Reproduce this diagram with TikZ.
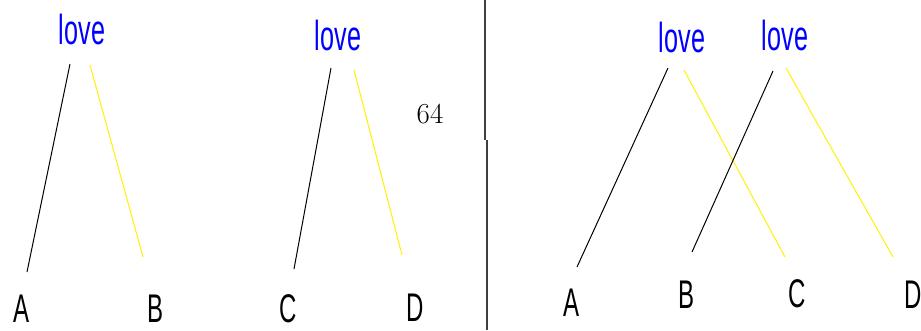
\documentclass[tikz,border=0pt]{standalone}
\usepackage{fontspec}
\setmainfont{Liberation Sans}
\newfontfamily\lmfont{Latin Modern Roman}
\begin{document}
\begin{tikzpicture}[x=1pt,y=-1pt,
  word/.style={inner sep=0pt,text=blue,font=\fontsize{42}{42}\selectfont},
  letter/.style={inner sep=0pt,text=black,font=\fontsize{40}{40}\selectfont},
  blk/.style={draw=black,line width=1pt},
  ylw/.style={draw=yellow,line width=1pt},
  sep/.style={draw=black!75,line width=2pt}]
\useasboundingbox (0,0) rectangle (921,330);
% left panel
\node[word] (love1) at (82,29) {\scalebox{0.6}[1]{love}};
\node[word] (love2) at (338,35) {\scalebox{0.6}[1]{love}};
\node[letter] (lA) at (22,309) {\scalebox{0.6}[1]{A}};
\node[letter] (lB) at (156,309) {\scalebox{0.6}[1]{B}};
\node[letter] (lC) at (288,309) {\scalebox{0.6}[1]{C}};
\node[letter] (lD) at (415,308) {\scalebox{0.6}[1]{D}};
\node[inner sep=0pt,font=\lmfont\fontsize{29}{29}\selectfont] (pg) at (430,114) {64};
\coordinate (a1) at (70,64);  \coordinate (a2) at (27,272);
\coordinate (b1) at (90,65);  \coordinate (b2) at (143,257);
\coordinate (c1) at (331,68); \coordinate (c2) at (294,269);
\coordinate (d1) at (354,70); \coordinate (d2) at (402,255);
\draw[blk] (a1) -- (a2);
\draw[ylw] (b1) -- (b2);
\draw[blk] (c1) -- (c2);
\draw[ylw] (d1) -- (d2);
% separator
\coordinate (s1) at (485,0); \coordinate (s2) at (485,140);
\coordinate (s3) at (487,140); \coordinate (s4) at (487,330);
\draw[sep] (s1) -- (s2);
\draw[sep] (s3) -- (s4);
% right panel
\node[word] (love3) at (682,37) {\scalebox{0.6}[1]{love}};
\node[word] (love4) at (785,35) {\scalebox{0.6}[1]{love}};
\node[letter] (rA) at (571,303) {\scalebox{0.6}[1]{A}};
\node[letter] (rB) at (686,295) {\scalebox{0.6}[1]{B}};
\node[letter] (rC) at (797,294) {\scalebox{0.6}[1]{C}};
\node[letter] (rD) at (913,295) {\scalebox{0.6}[1]{D}};
\coordinate (e1) at (668,68); \coordinate (e2) at (577,267);
\coordinate (f1) at (684,70); \coordinate (f2) at (785,257);
\coordinate (g1) at (773,71); \coordinate (g2) at (692,252);
\coordinate (h1) at (786,68); \coordinate (h2) at (893,257);
\draw[blk] (e1) -- (e2);
\draw[ylw] (f1) -- (f2);
\draw[blk] (g1) -- (g2);
\draw[ylw] (h1) -- (h2);
\end{tikzpicture}
\end{document}
